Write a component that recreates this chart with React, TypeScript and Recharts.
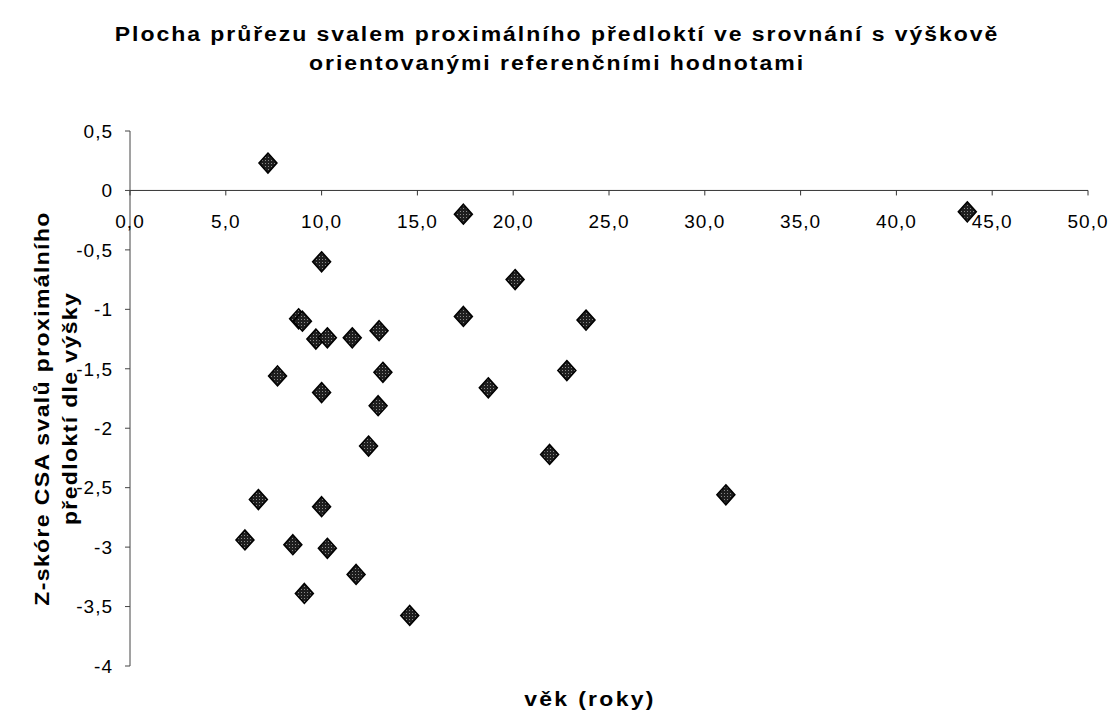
import React from "react";
import {
  ScatterChart,
  Scatter,
  XAxis,
  YAxis,
  ReferenceLine,
  ReferenceDot,
} from "recharts";

// age (years) of each subject and their CSA z-score
const ages = [
  7.2, 17.4, 43.7, 10.0, 20.1, 17.4, 23.8, 8.8, 9.0, 9.7, 10.3, 11.6, 13.0,
  7.7, 13.2, 10.0, 18.7, 22.8, 12.95, 12.45, 21.9, 31.1, 6.7, 10.0, 6.0, 8.5,
  10.3, 11.8, 9.1, 14.6,
];
const zScores = [
  0.23, -0.2, -0.18, -0.6, -0.75, -1.06, -1.09, -1.08, -1.1, -1.25, -1.24,
  -1.24, -1.18, -1.56, -1.53, -1.7, -1.66, -1.515, -1.81, -2.15, -2.22, -2.56,
  -2.6, -2.66, -2.94, -2.98, -3.01, -3.23, -3.39, -3.575,
];

const xTicks = [0, 5, 10, 15, 20, 25, 30, 35, 40, 45, 50];
const yTicks = [0.5, 0, -0.5, -1, -1.5, -2, -2.5, -3, -3.5, -4];

const title = [
  "Plocha průřezu svalem proximálního předloktí ve srovnání s výškově",
  "orientovanými referenčními hodnotami",
];
const yTitle = ["Z-skóre CSA svalů proximálního", "předloktí dle výšky"];
const xTitle = "věk (roky)";

const data = ages.map((age, i) => ({ age, z: zScores[i] }));

const FONT = "'Liberation Sans', Arial, sans-serif";
const STRETCH = 1.15; // the original's lettering is set rather wide

const Diamond = (props: any) => {
  const { cx, cy } = props;
  if (cx == null || cy == null) return null;
  return (
    <polygon
      points={`${cx},${cy - 10} ${cx + 9},${cy} ${cx},${cy + 10} ${cx - 9},${cy}`}
      fill="url(#dotted)"
      stroke="#000"
      strokeWidth={1.5}
    />
  );
};

// tick mark + label sitting on the y=0 line
const XTickOnZero = (label: string) => (props: any) => {
  const { cx, cy } = props;
  if (cx == null || cy == null) return null;
  return (
    <g>
      <line x1={cx} y1={cy} x2={cx} y2={cy + 5} stroke="#333" />
      <text
        x={cx}
        y={cy + 38}
        textAnchor="middle"
        fontSize={19}
        letterSpacing={1}
        fontFamily={FONT}
        fill="#000"
      >
        {label}
      </text>
    </g>
  );
};

const YTitle = (props: any) => {
  const vb = props.viewBox || {};
  const cy = vb.y + vb.height / 2 + 10;
  return (
    <g fontFamily={FONT} fontWeight="bold" fontSize={20} fill="#000">
      {yTitle.map((t, i) => {
        const x = 42 + i * 28;
        return (
          <text
            key={i}
            x={0}
            y={0}
            textAnchor="middle"
            dominantBaseline="central"
            letterSpacing={1.2}
            transform={`translate(${x}, ${cy}) rotate(-90) scale(${STRETCH}, 1)`}
          >
            {t}
          </text>
        );
      })}
    </g>
  );
};

const XTitle = (props: any) => {
  const vb = props.viewBox || {};
  const x = vb.x + vb.width / 2 - 19;
  const y = vb.y + vb.height - 10;
  return (
    <text
      x={0}
      y={0}
      textAnchor="middle"
      fontFamily={FONT}
      fontWeight="bold"
      fontSize={20}
      letterSpacing={2}
      fill="#000"
      transform={`translate(${x}, ${y}) scale(${STRETCH}, 1)`}
    >
      {xTitle}
    </text>
  );
};

const fmtY = (v: number) => String(v).replace(".", ",");
const fmtX = (v: number) => v.toFixed(1).replace(".", ",");

export default function App() {
  return (
    <div
      style={{
        position: "absolute",
        left: 0,
        top: 0,
        width: 1114,
        height: 725,
        background: "#fff",
      }}
    >
      <div
        style={{
          position: "absolute",
          left: 0,
          top: 20,
          width: 1114,
          textAlign: "center",
          fontFamily: FONT,
          fontWeight: "bold",
          fontSize: 20,
          letterSpacing: 1.7,
          lineHeight: "29px",
          color: "#000",
        }}
      >
        {title.map((t, i) => (
          <div key={i} style={{ transform: `scaleX(${STRETCH})` }}>
            {t}
          </div>
        ))}
      </div>
      <ScatterChart
        width={1114}
        height={725}
        margin={{ top: 131, right: 26, bottom: 9, left: 30 }}
      >
        <defs>
          <pattern
            id="dotted"
            width={3}
            height={3}
            patternUnits="userSpaceOnUse"
          >
            <rect width={3} height={3} fill="#1e1e1e" />
            <rect x={1} y={1} width={1} height={1} fill="#8a8a8a" />
          </pattern>
        </defs>
        <XAxis
          type="number"
          dataKey="age"
          domain={[0, 50]}
          ticks={xTicks}
          height={50}
          axisLine={false}
          tickLine={false}
          tick={false}
          label={{ content: XTitle }}
        />
        <YAxis
          type="number"
          dataKey="z"
          domain={[-4, 0.5]}
          ticks={yTicks}
          width={100}
          interval={0}
          tickFormatter={fmtY}
          tickSize={5}
          tickMargin={12}
          axisLine={{ stroke: "#444" }}
          tickLine={{ stroke: "#444" }}
          tick={{
            fontSize: 19,
            fontFamily: FONT,
            fill: "#000",
            letterSpacing: 1,
          }}
          label={{ content: YTitle }}
        />
        <ReferenceLine y={0} stroke="#333" strokeWidth={1} />
        {xTicks.map((t) => (
          <ReferenceDot
            key={t}
            x={t}
            y={0}
            r={0}
            ifOverflow="visible"
            shape={XTickOnZero(fmtX(t))}
          />
        ))}
        <Scatter data={data} shape={Diamond} isAnimationActive={false} />
      </ScatterChart>
    </div>
  );
}
